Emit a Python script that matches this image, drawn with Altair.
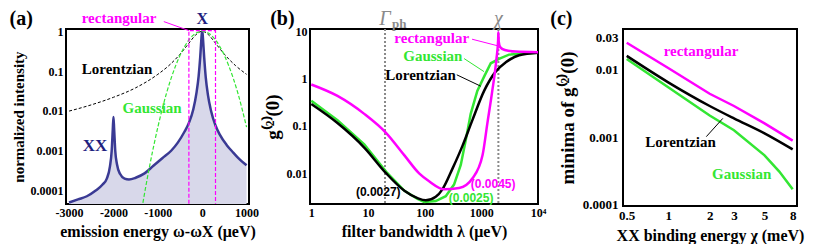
import altair as alt
import pandas as pd

SERIF = "Liberation Serif"
SANS = "Liberation Sans"
NAVY = "#3a3a94"
NAVY_TXT = "#1f1f7f"
FILL = "#d8d8ea"
MAG = "#ff00ff"
GRN = "#33e633"
GRAY = "#8a8a8a"

# ---------------- panel (a) ----------------
a_spec_x = [-3000, -2800, -2600, -2400, -2250, -2150, -2080, -2040, -2015, -2000, -1985, -1960,
            -1920, -1850, -1750, -1650, -1500, -1300, -1100, -900, -700, -550, -400, -300, -200,
            -130, -80, -45, -20, -8, 0, 8, 20, 45, 80, 130, 200, 300, 400, 550, 700, 850, 1000]
a_spec_y = [5.0e-5, 6.0e-5, 7.2e-5, 1.0e-4, 1.4e-4, 2.0e-4, 4.0e-4, 1.0e-3, 3.5e-3, 7.0e-3, 3.5e-3, 1.0e-3,
            4.5e-4, 2.6e-4, 2.0e-4, 1.9e-4, 2.1e-4, 2.7e-4, 4.2e-4, 6.5e-4, 1.0e-3, 1.6e-3, 3.0e-3, 5.0e-3, 1.1e-2,
            2.8e-2, 7.5e-2, 0.22, 0.6, 0.9, 1.0, 0.9, 0.6, 0.22, 0.07, 0.025, 0.01, 0.0043, 0.0025, 0.0014, 9e-4, 6e-4, 4.3e-4]
a_lor_x = [-3000, -2500, -2000, -1500, -1000, -750, -500, -300, -150, 0, 150, 300, 500, 750, 1000]
a_lor_y = [0.0099, 0.0142, 0.022, 0.038, 0.083, 0.138, 0.265, 0.5, 0.8, 1.0, 0.8, 0.5, 0.265, 0.138, 0.083]
a_gau_x = [-1360, -1200, -1000, -800, -600, -400, -200, 0, 200, 400, 600, 800, 1000]
a_gau_y = [3.5e-5, 3.4e-4, 3.9e-3, 0.029, 0.135, 0.41, 0.80, 1.0, 0.80, 0.41, 0.135, 0.029, 0.0039]
a_rect_x = [-300, -300, 300, 300]
a_rect_y = [4.7e-5, 1.04, 1.04, 4.7e-5]
A_XDOM = [-3070, 1055]
A_YDOM = [4.6e-5, 1.14]
a_xticks = [-3000, -2000, -1000, 0, 1000]
a_yticks = [0.0001, 0.001, 0.01, 0.1, 1]
a_txt = ["rectangular", "X", "Lorentzian", "Gaussian", "XX", "(a)"]
a_txt_x = [-1874, 0, -1919, -1129, -2415, -4080]
a_txt_y = [2.15, 2.03, 0.112, 0.012, 0.00135, 2.03]
a_txt_c = [MAG, NAVY_TXT, "black", GRN, NAVY_TXT, "black"]
a_txt_s = [15, 16, 15, 15, 17, 20]
a_lead = dict(x=[-865], y=[1.75], x2=[-300], y2=[1.04])

# ---------------- panel (b) ----------------
b_rect_x = [1, 2.9, 8.6, 21, 44, 80, 120, 220, 405, 700, 1050, 1280, 1560, 1850, 1980, 2000, 2030,
            2150, 2600, 4000, 10000]
b_rect_y = [0.75, 0.43, 0.18, 0.071, 0.024, 0.010, 0.0068, 0.0046, 0.0049, 0.0079, 0.024, 0.115, 0.55,
            2.6, 6.5, 9.5, 6.0, 4.6, 4.0, 3.7, 3.6]
b_gau_x = [1, 2.9, 8.6, 21, 44, 75, 98, 157, 236, 330, 434, 534, 650, 850, 1120, 1470, 2050, 3080, 10000]
b_gau_y = [0.34, 0.133, 0.041, 0.0108, 0.0043, 0.0029, 0.0025, 0.0026, 0.0033, 0.0058, 0.015, 0.052,
           0.18, 0.55, 1.1, 2.1, 2.6, 3.2, 3.5]
b_lor_x = [1, 2.9, 8.6, 21, 44, 75, 105, 157, 206, 310, 465, 696, 1120, 1790, 2700, 4650, 10000]
b_lor_y = [0.29, 0.115, 0.035, 0.010, 0.0043, 0.0030, 0.0027, 0.0032, 0.0046, 0.0126, 0.038, 0.133,
           0.55, 1.4, 2.2, 3.1, 3.5]
b_vlines = [20, 2000]
B_XDOM = [0.95, 10000]
B_YDOM = [0.00226, 11.1]
b_xticks = [1, 10, 100, 1000, 10000]
b_yticks = [0.01, 0.1, 1, 10]
b_lbl = ["rectangular", "Gaussian", "Lorentzian"]
b_lbl_x = [608, 464, 355]
b_lbl_y = [7.2, 2.98, 1.2]
b_lbl_c = [MAG, GRN, "black"]
b_lead_x = [687, 497, 369]
b_lead_y = [6.76, 2.64, 1.2]
b_lead_x2 = [1920, 1117, 978]
b_lead_y2 = [4.93, 1.40, 0.69]
b_min = ["(0.0027)", "(0.0025)", "(0.0045)"]
b_min_x = [15.2, 660, 1620]
b_min_y = [0.0041, 0.0030, 0.0060]
b_min_c = ["black", GRN, MAG]
b_panel = dict(x=[0.31], y=[18.0], t=["(b)"])

# ---------------- panel (c) ----------------
c_x = [0.5, 1, 2, 3, 5, 8]
c_rect = [0.025, 0.0106, 0.0044, 0.0029, 0.0016, 0.00089]
c_lor = [0.016, 0.0065, 0.0029, 0.0019, 0.00114, 0.00066]
c_gau_x = [0.5, 1, 2, 3, 5, 6.4, 8]
c_gau = [0.0144, 0.0055, 0.0021, 0.00127, 0.00054, 0.00031, 0.00017]
C_XDOM = [0.47, 8.6]
C_YDOM = [9.6e-5, 0.04]
c_xticks = [0.5, 1, 2, 3, 5, 8]
c_yticks = [0.0001, 0.001, 0.01, 0.03]
c_lbl = ["rectangular", "Lorentzian", "Gaussian"]
c_lbl_x = [1.73, 1.23, 3.41]
c_lbl_y = [0.019, 0.00084, 0.00029]
c_lbl_c = [MAG, "black", GRN]
c_lead = dict(x=[1.89], y=[0.00102], x2=[2.49], y2=[0.0019])
c_panel = dict(x=[0.168], y=[0.056], t=["(c)"])


def df(x, y, **kw):
    d = pd.DataFrame({"x": x, "y": y})
    for k, v in kw.items():
        d[k] = v
    return d


# ----- (a)
ax = alt.X("x:Q", scale=alt.Scale(domain=A_XDOM, nice=False, zero=False),
           axis=alt.Axis(values=a_xticks, labelExpr="'' + datum.value",
                         title="emission energy ω-ωX (μeV)"))
ay = alt.Y("y:Q", scale=alt.Scale(type="log", domain=A_YDOM, nice=False),
           axis=alt.Axis(values=a_yticks, format="~g", title="normalized intensity"))

spec = df(a_spec_x, a_spec_y)
a_layers = [
    alt.Chart(spec).mark_area(color=FILL, interpolate="monotone").encode(x=ax, y=ay, y2=alt.datum(A_YDOM[0])),
    alt.Chart(spec).mark_line(color=NAVY, strokeWidth=2.5, interpolate="monotone").encode(x=ax, y=ay),
    alt.Chart(df(a_lor_x, a_lor_y)).mark_line(color="black", strokeWidth=1, strokeDash=[3, 2],
                                               interpolate="monotone").encode(x=ax, y=ay),
    alt.Chart(df(a_gau_x, a_gau_y)).mark_line(color=GRN, strokeWidth=1.2, strokeDash=[4, 2],
                                               interpolate="monotone", clip=True).encode(x=ax, y=ay),
    alt.Chart(df(a_rect_x, a_rect_y, i=[0, 1, 2, 3])).mark_line(color=MAG, strokeWidth=1.2,
                                                              strokeDash=[4, 2]).encode(x=ax, y=ay, order="i:Q"),
    alt.Chart(pd.DataFrame(a_lead)).mark_rule(color=MAG, strokeWidth=1).encode(
        x=ax, y=ay, x2="x2:Q", y2="y2:Q"),
    alt.Chart(df(a_txt_x, a_txt_y, t=a_txt, c=a_txt_c, s=a_txt_s)).mark_text(
        font=SERIF, fontWeight="bold").encode(
        x=ax, y=ay, text="t:N", color=alt.Color("c:N", scale=None), size=alt.Size("s:Q", scale=None)),
]
panel_a = alt.layer(*a_layers).properties(width=183, height=175)

# ----- (b)
bx = alt.X("x:Q", scale=alt.Scale(type="log", domain=B_XDOM, nice=False),
           axis=alt.Axis(values=b_xticks, labelExpr="datum.value == 10000 ? '10⁴' : '' + datum.value",
                         title="filter bandwidth λ (μeV)"))
by = alt.Y("y:Q", scale=alt.Scale(type="log", domain=B_YDOM, nice=False),
           axis=alt.Axis(values=b_yticks, format="~g", title="g⁽²⁾(0)", titleFontSize=19))

b_layers = [
    alt.Chart(pd.DataFrame({"x": b_vlines})).mark_rule(color=GRAY, strokeWidth=2, strokeDash=[2, 2]).encode(x=bx),
    alt.Chart(df(b_gau_x, b_gau_y)).mark_line(color=GRN, strokeWidth=2.5).encode(x=bx, y=by),
    alt.Chart(df(b_lor_x, b_lor_y)).mark_line(color="black", strokeWidth=2.5, interpolate="monotone").encode(x=bx, y=by),
    alt.Chart(df(b_rect_x, b_rect_y)).mark_line(color=MAG, strokeWidth=2.5, interpolate="monotone").encode(x=bx, y=by),
    alt.Chart(pd.DataFrame({"x": b_lead_x, "y": b_lead_y, "x2": b_lead_x2, "y2": b_lead_y2, "c": b_lbl_c})).mark_rule(
        strokeWidth=1).encode(x=bx, y=by, x2="x2:Q", y2="y2:Q", color=alt.Color("c:N", scale=None)),
    alt.Chart(df(b_lbl_x, b_lbl_y, t=b_lbl, c=b_lbl_c)).mark_text(
        font=SERIF, fontWeight="bold", fontSize=15, align="right").encode(
        x=bx, y=by, text="t:N", color=alt.Color("c:N", scale=None)),
    alt.Chart(df(b_min_x, b_min_y, t=b_min, c=b_min_c)).mark_text(
        font=SANS, fontWeight="bold", fontSize=12).encode(
        x=bx, y=by, text="t:N", color=alt.Color("c:N", scale=None)),
    alt.Chart(df([20, 2000], [18.0, 18.0], t=["Γ", "χ"])).mark_text(
        font=SERIF, fontStyle="italic", fontSize=20, color=GRAY).encode(x=bx, y=by, text="t:N"),
    alt.Chart(df([26.5], [14.2], t=["ph"])).mark_text(
        font=SERIF, fontWeight="bold", fontSize=13, color=GRAY, align="left").encode(x=bx, y=by, text="t:N"),
    alt.Chart(pd.DataFrame(b_panel)).mark_text(
        font=SERIF, fontWeight="bold", fontSize=20, color="black").encode(x=bx, y=by, text="t:N"),
]
panel_b = alt.layer(*b_layers).properties(width=228, height=175)

# ----- (c)
cx = alt.X("x:Q", scale=alt.Scale(type="log", domain=C_XDOM, nice=False),
           axis=alt.Axis(values=c_xticks, format="~g", title="XX binding energy χ (meV)", labelFontSize=13))
cy = alt.Y("y:Q", scale=alt.Scale(type="log", domain=C_YDOM, nice=False),
           axis=alt.Axis(values=c_yticks, format="~g", title="minima of g⁽²⁾(0)", titleFontSize=19,
                         labelFontSize=13, labelPadding=5, titlePadding=5))

c_layers = [
    alt.Chart(df(c_x, c_rect)).mark_line(color=MAG, strokeWidth=2.5).encode(x=cx, y=cy),
    alt.Chart(df(c_gau_x, c_gau)).mark_line(color=GRN, strokeWidth=2.5).encode(x=cx, y=cy),
    alt.Chart(df(c_x, c_lor)).mark_line(color="black", strokeWidth=2.5, interpolate="monotone").encode(x=cx, y=cy),
    alt.Chart(pd.DataFrame(c_lead)).mark_rule(color="black", strokeWidth=1).encode(
        x=cx, y=cy, x2="x2:Q", y2="y2:Q"),
    alt.Chart(df(c_lbl_x, c_lbl_y, t=c_lbl, c=c_lbl_c)).mark_text(
        font=SERIF, fontWeight="bold", fontSize=15).encode(
        x=cx, y=cy, text="t:N", color=alt.Color("c:N", scale=None)),
    alt.Chart(pd.DataFrame(c_panel)).mark_text(
        font=SERIF, fontWeight="bold", fontSize=20, color="black").encode(x=cx, y=cy, text="t:N"),
]
panel_c = alt.layer(*c_layers).properties(width=174, height=177)

chart = alt.hconcat(panel_a, panel_b, panel_c, spacing=2).properties(
    padding={"left": 0, "top": 0, "right": 0, "bottom": 0}
).configure_view(stroke="black", strokeWidth=2).configure_axis(
    grid=False, ticks=False, domain=False, labelFont=SERIF, labelFontWeight="bold", labelFontSize=12,
    labelColor="black", titleFont=SERIF, titleFontWeight="bold", titleFontSize=15, titleColor="black",
    labelPadding=3, labelFlush=False, labelOverlap=False
).configure_axisY(titlePadding=4).configure_axisX(titlePadding=5, titleFontSize=16)

chart.save("out.html", embed_options={"renderer": "svg", "actions": False})
